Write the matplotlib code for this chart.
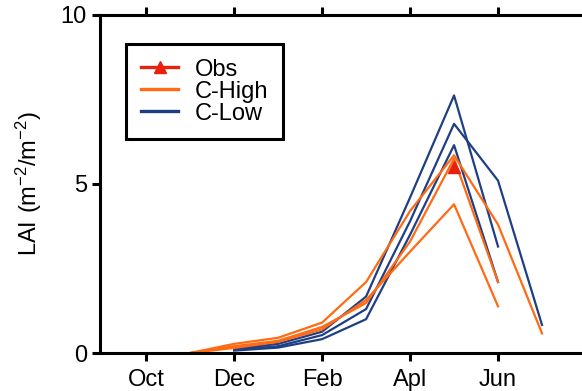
import numpy as np
import matplotlib
matplotlib.use("Agg")
import matplotlib.pyplot as plt

plt.rcParams['font.family'] = ['Liberation Sans', 'DejaVu Sans']

# month index: Oct=1 ... Jul=10
tick_pos = [1, 3, 5, 7, 9]
tick_labels = ['Oct', 'Dec', 'Feb', 'Apl', 'Jun']

# C-High runs (orange)
high_x = [
    [2, 3, 4, 5, 6, 7, 8, 9, 10],
    [2, 3, 4, 5, 6, 7, 8, 9],
    [2, 3, 4, 5, 6, 7, 8, 9],
]
high_y = [
    [0, 0.27, 0.45, 0.90, 2.10, 4.20, 5.85, 3.80, 0.58],
    [0, 0.20, 0.36, 0.77, 1.48, 3.30, 5.75, 2.10],
    [0, 0.15, 0.33, 0.70, 1.57, 3.00, 4.40, 1.38],
]

# C-Low runs (blue)
low_x = [
    [3, 4, 5, 6, 7, 8, 9],
    [3, 4, 5, 6, 7, 8, 9, 10],
    [3, 4, 5, 6, 7, 8, 9],
]
low_y = [
    [0.12, 0.27, 0.63, 1.67, 4.60, 7.62, 3.15],
    [0.10, 0.20, 0.53, 1.30, 3.90, 6.78, 5.10, 0.83],
    [0.07, 0.16, 0.41, 1.00, 3.50, 6.15, 2.10],
]

obs_x = [8]
obs_y = [5.5]

c_high = '#ff6a13'
c_low = '#1f3f85'
c_obs = '#e8200c'

fig = plt.figure(figsize=(5.82, 3.91), dpi=100)
ax = fig.add_axes([100 / 582, 38 / 391, 486 / 582, 338 / 391])

for xs, ys in zip(low_x, low_y):
    ax.plot(xs, ys, color=c_low, lw=1.6)
for xs, ys in zip(high_x, high_y):
    ax.plot(xs, ys, color=c_high, lw=1.6)
ax.plot(obs_x, obs_y, color=c_obs, marker='^', ms=8, lw=0)

# legend proxies
h_obs, = ax.plot([], [], color=c_obs, lw=2.4, marker='^', ms=8)
h_high, = ax.plot([], [], color=c_high, lw=2.4)
h_low, = ax.plot([], [], color=c_low, lw=2.4)
leg = ax.legend([h_obs, h_high, h_low], ['Obs', 'C-High', 'C-Low'],
                loc='upper left', bbox_to_anchor=(0.0535, 0.914),
                borderaxespad=0, fontsize=17, fancybox=False,
                handlelength=1.6, handletextpad=0.7, labelspacing=0.0,
                borderpad=0.62, framealpha=1)
leg.get_frame().set_edgecolor('black')
leg.get_frame().set_linewidth(2.2)

ax.set_xlim(-0.05, 11)
ax.set_ylim(0, 10)
ax.set_xticks(tick_pos)
ax.set_xticklabels(tick_labels)
ax.set_yticks([0, 5, 10])

for s in ax.spines.values():
    s.set_linewidth(2.2)
ax.tick_params(axis='both', direction='out', length=5.5, width=2.2,
               labelsize=17, pad=4)
ax.tick_params(axis='x', top=True, pad=6)

ax.set_ylabel('$\\mathregular{LAI\\ (m^{-2}/m^{-2})}$', fontsize=17, labelpad=12)

fig.savefig('out.png', dpi=100)
